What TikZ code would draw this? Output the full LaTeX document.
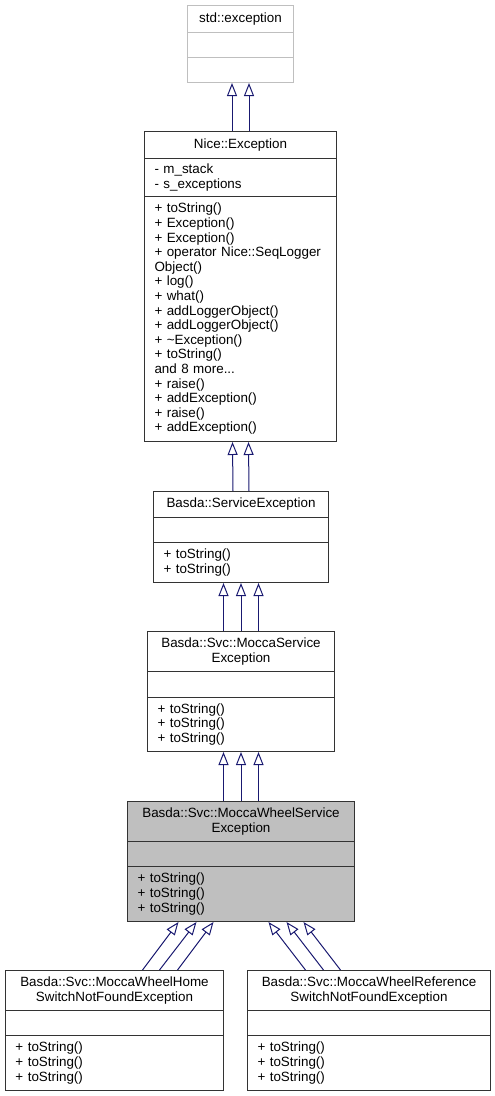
\documentclass[tikz,border=0pt]{standalone}
\usepackage{fontspec}
\setmainfont{Liberation Sans}
\usetikzlibrary{arrows.meta}
\definecolor{edgeblue}{HTML}{191970}
\definecolor{classgray}{HTML}{BFBFBF}

\begin{document}
\begin{tikzpicture}
  [x=1pt,y=-1pt,
   every node/.style={draw=black!80,line width=1pt,anchor=north west,inner ysep=0pt,
     font=\fontsize{13.4}{14.6}\selectfont},
   title/.style={align=center,inner xsep=2pt},
   body/.style={align=left,inner xsep=10pt},
   faint/.style={draw=black!25},
   inh/.style={draw=edgeblue,line width=1pt,-{Triangle[open,length=13pt,width=10pt]}}]
  \useasboundingbox (0,0) rectangle (495,1096);

  % std::exception
  \node[title,faint,text width=102pt,minimum height=27pt] (stdt) at (187,5) {std::exception};
  \node[body,faint,text width=86pt,minimum height=25pt] (stda) at (187,32) {};
  \node[body,faint,text width=86pt,minimum height=25pt] (stdm) at (187,57) {};

  % Nice::Exception
  \node[title,text width=188pt,minimum height=27pt] (nicet) at (144,131) {Nice::Exception};
  \node[body,text width=172pt,minimum height=38pt] (nicea) at (144,158)
    {- m\_stack\\- s\_exceptions};
  \node[body,text width=172pt,minimum height=245pt] (nicem) at (144,196)
    {+ toString()\\+ Exception()\\+ Exception()\\+ operator Nice::SeqLogger\\Object()\\+ log()\\+ what()\\
     + addLoggerObject()\\+ addLoggerObject()\\+ \textasciitilde Exception()\\+ toString()\\and 8 more...\\
     + raise()\\+ addException()\\+ raise()\\+ addException()};

  % Basda::ServiceException
  \node[title,text width=171pt,minimum height=26pt] (svct) at (153,491) {Basda::ServiceException};
  \node[body,text width=155pt,minimum height=25pt] (svca) at (153,517) {};
  \node[body,text width=155pt,minimum height=40pt] (svcm) at (153,542) {+ toString()\\+ toString()};

  % Basda::Svc::MoccaServiceException
  \node[title,text width=183pt,minimum height=40pt] (mst) at (147,631) {Basda::Svc::MoccaService\\Exception};
  \node[body,text width=167pt,minimum height=26pt] (msa) at (147,671) {};
  \node[body,text width=167pt,minimum height=54pt] (msm) at (147,697) {+ toString()\\+ toString()\\+ toString()};

  % Basda::Svc::MoccaWheelServiceException
  \node[title,fill=classgray,text width=223pt,minimum height=40pt] (mwst) at (127,801)
    {Basda::Svc::MoccaWheelService\\Exception};
  \node[body,fill=classgray,text width=207pt,minimum height=25pt] (mwsa) at (127,841) {};
  \node[body,fill=classgray,text width=207pt,minimum height=55pt] (mwsm) at (127,866)
    {+ toString()\\+ toString()\\+ toString()};

  % Basda::Svc::MoccaWheelHomeSwitchNotFoundException
  \node[title,text width=214pt,minimum height=40pt] (homet) at (5,970)
    {Basda::Svc::MoccaWheelHome\\SwitchNotFoundException};
  \node[body,text width=198pt,minimum height=25pt] (homea) at (5,1010) {};
  \node[body,text width=198pt,minimum height=55pt] (homem) at (5,1035)
    {+ toString()\\+ toString()\\+ toString()};

  % Basda::Svc::MoccaWheelReferenceSwitchNotFoundException
  \node[title,text width=239pt,minimum height=40pt] (reft) at (247,970)
    {Basda::Svc::MoccaWheelReference\\SwitchNotFoundException};
  \node[body,text width=223pt,minimum height=25pt] (refa) at (247,1010) {};
  \node[body,text width=223pt,minimum height=55pt] (refm) at (247,1035)
    {+ toString()\\+ toString()\\+ toString()};

  % inheritance
  \foreach \d in {-8.5,8.5}
    \draw[inh] ([xshift=\d pt]nicet.north) -- ([xshift=\d pt]stdm.south);
  \foreach \d in {-8,8}
    \draw[inh] ([xshift=\d pt]svct.north) -- ([xshift=\d pt]nicem.south);
  \foreach \d in {-17.5,0,17.5}
    \draw[inh] ([xshift=\d pt]mst.north) -- ([xshift=\d pt]svcm.south);
  \foreach \d in {-17.5,0,17.5}
    \draw[inh] ([xshift=\d pt]mwst.north) -- ([xshift=\d pt]msm.south);
  \foreach \a/\b in {28/-62.5,45/-44.5,63/-27.5}
    \draw[inh] ([xshift=\a pt]homet.north) -- ([xshift=\b pt]mwsm.south);
  \foreach \a/\b in {-63.5/27.5,-45.5/45.5,-28.5/62.5}
    \draw[inh] ([xshift=\a pt]reft.north) -- ([xshift=\b pt]mwsm.south);
\end{tikzpicture}
\end{document}
